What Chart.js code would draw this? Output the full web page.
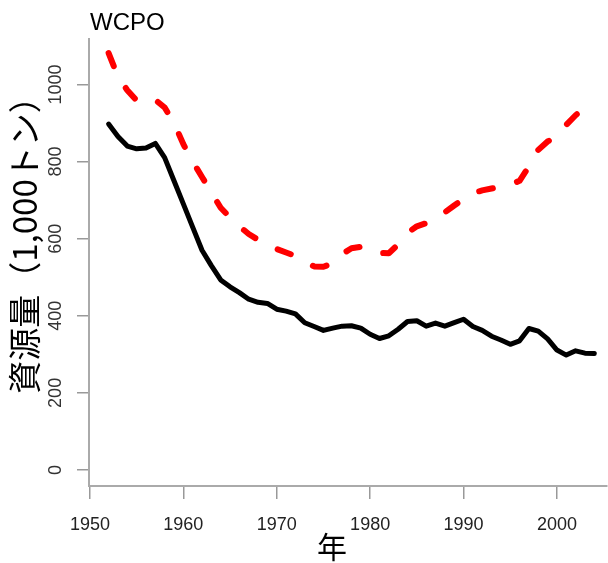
<!DOCTYPE html>
<html>
<head>
<meta charset="utf-8">
<script src="https://cdn.jsdelivr.net/npm/chart.js@4.4.1/dist/chart.umd.min.js"></script>
<style>
  html, body { margin: 0; padding: 0; background: #fff; }
  #wrap { width: 608px; height: 563px; position: relative; }
</style>
</head>
<body>
<div id="wrap"><canvas id="chart"></canvas></div>
<script>
// 年
const years = [
  1952, 1953, 1954, 1955, 1956, 1957, 1958, 1959, 1960, 1961,
  1962, 1963, 1964, 1965, 1966, 1967, 1968, 1969, 1970, 1971,
  1972, 1973, 1974, 1975, 1976, 1977, 1978, 1979, 1980, 1981,
  1982, 1983, 1984, 1985, 1986, 1987, 1988, 1989, 1990, 1991,
  1992, 1993, 1994, 1995, 1996, 1997, 1998, 1999, 2000, 2001,
  2002, 2003, 2004
];

// 資源量（実線, 黒）
const biomass = [
  897, 865, 840, 833, 835, 847, 810, 750, 690, 630,
  570, 530, 493, 475, 460, 443, 435, 432, 417, 412,
  405, 382, 372, 362, 368, 373, 374, 368, 352, 341,
  348, 365, 385, 387, 373, 381, 373, 382, 391, 372,
  362, 347, 337, 326, 335, 367, 360, 340, 311, 298,
  309, 303, 302
];

// 漁獲なしの場合（破線, 赤） 1952-2003
const biomassNoFishing = [
  1081, 1020, 985, 958, 955, 960, 940, 900, 845, 800,
  760, 720, 680, 655, 632, 612, 597, 585, 573, 564,
  555, 540, 528, 527, 536, 560, 575, 579, 576, 563,
  562, 585, 615, 632, 640, 650, 668, 686, 703, 718,
  725, 730, 735, 740, 750, 787, 830, 852, 865, 895,
  920, 940
];

const xTicks = [1950, 1960, 1970, 1980, 1990, 2000];
const yTicks = [0, 200, 400, 600, 800, 1000];

const LATIN = '"Liberation Sans", Arial, Helvetica, sans-serif';
const CJK = '"Noto Sans CJK JP", "Noto Sans CJK SC", sans-serif';

const toPoints = (xs, ys) => ys.map((v, i) => ({ x: xs[i], y: v }));

// 目盛り文字（縦）とタイトル類
const labelsPlugin = {
  id: 'labels',
  afterDraw(chart) {
    const { ctx } = chart;
    const ys = chart.scales.y;

    ctx.save();
    ctx.fillStyle = '#333';
    ctx.font = '18px ' + LATIN;
    ctx.textAlign = 'center';
    ctx.textBaseline = 'middle';
    ys.ticks.forEach(t => {
      ctx.save();
      ctx.translate(56, ys.getPixelForValue(t.value));
      ctx.rotate(-Math.PI / 2);
      ctx.fillText(String(t.value), 0, 0);
      ctx.restore();
    });

    ctx.fillStyle = '#000';
    ctx.font = '24px ' + LATIN;
    ctx.textAlign = 'left';
    ctx.fillText('WCPO', 90, 23);

    ctx.font = '33px ' + CJK;
    ctx.textAlign = 'center';
    ctx.translate(24, 237);
    ctx.rotate(-Math.PI / 2);
    ctx.fillText('資源量（1,000トン）', 0, 0);
    ctx.restore();

    ctx.save();
    ctx.fillStyle = '#000';
    ctx.font = '30px ' + CJK;
    ctx.textAlign = 'center';
    ctx.textBaseline = 'middle';
    ctx.fillText('年', 332, 547);
    ctx.restore();
  }
};

new Chart(document.getElementById('chart'), {
  type: 'line',
  data: {
    datasets: [
      {
        label: '資源量',
        data: toPoints(years, biomass),
        borderColor: '#000',
        borderWidth: 5,
        pointRadius: 0,
        tension: 0,
        borderJoinStyle: 'round',
        borderCapStyle: 'round'
      },
      {
        label: '漁獲なし',
        data: toPoints(years, biomassNoFishing),
        borderColor: '#ff0000',
        borderWidth: 6,
        borderDash: [14, 25],
        pointRadius: 0,
        tension: 0,
        borderJoinStyle: 'round',
        borderCapStyle: 'round'
      }
    ]
  },
  options: {
    responsive: true,
    maintainAspectRatio: false,
    animation: false,
    layout: { padding: { left: 89, top: 39, right: 1, bottom: 0 } },
    plugins: {
      legend: { display: false },
      tooltip: { enabled: false },
      title: { display: false }
    },
    scales: {
      x: {
        type: 'linear',
        position: 'bottom',
        min: 1949.9,
        max: 2005.36,
        afterBuildTicks: s => { s.ticks = xTicks.map(v => ({ value: v })); },
        afterFit: s => { s.height = 77; },
        ticks: {
          color: '#222',
          font: { family: LATIN, size: 18 },
          padding: 15,
          maxRotation: 0,
          callback: v => String(v)
        },
        grid: {
          drawOnChartArea: false,
          drawTicks: true,
          tickLength: 13,
          color: '#999',
          lineWidth: 1.5
        },
        border: { display: true, color: '#aaa', width: 2 }
      },
      y: {
        type: 'linear',
        position: 'left',
        min: -41.5,
        max: 1117.7,
        afterBuildTicks: s => { s.ticks = yTicks.map(v => ({ value: v })); },
        afterFit: s => { s.width = 0; },
        ticks: { display: false },
        grid: {
          drawOnChartArea: false,
          drawTicks: true,
          tickLength: 12,
          color: '#999',
          lineWidth: 1.5
        },
        border: { display: true, color: '#aaa', width: 2 }
      }
    }
  },
  plugins: [labelsPlugin]
});
</script>
</body>
</html>
